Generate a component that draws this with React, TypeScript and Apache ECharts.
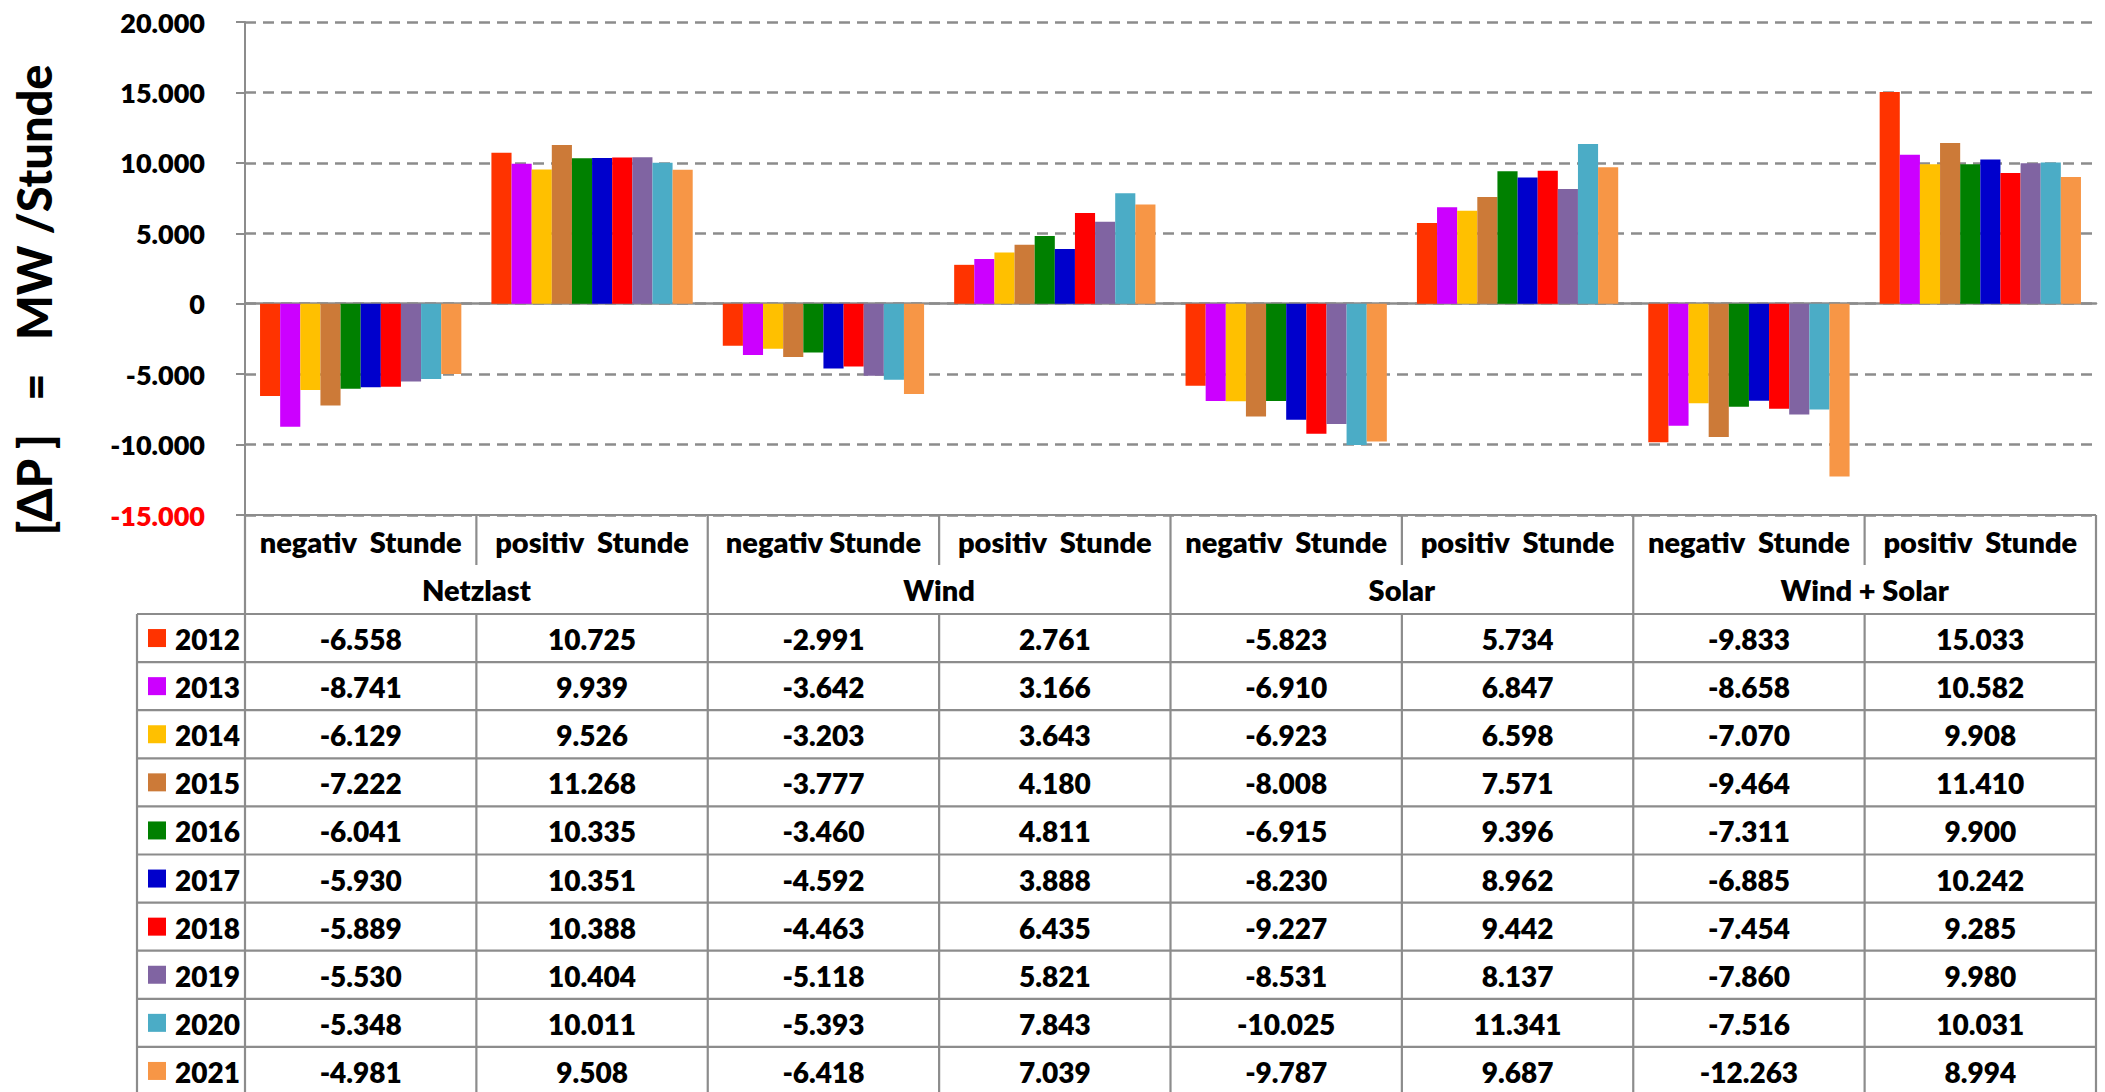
import React, { useEffect, useRef } from "react";
import * as echarts from "echarts";

const years = ["2012", "2013", "2014", "2015", "2016", "2017", "2018", "2019", "2020", "2021"];
const yearColors = ["#FF3300", "#CC00FF", "#FFC000", "#CC7A38", "#008000", "#0000CC", "#FF0000", "#8064A2", "#4BACC6", "#F79646"];

const categories = [
  "negativ  Stunde", "positiv  Stunde",
  "negativ Stunde", "positiv  Stunde",
  "negativ  Stunde", "positiv  Stunde",
  "negativ  Stunde", "positiv  Stunde",
];
const groups = ["Netzlast", "Wind", "Solar", "Wind + Solar"];

const netzlastNeg = [-6558, -8741, -6129, -7222, -6041, -5930, -5889, -5530, -5348, -4981];
const netzlastPos = [10725, 9939, 9526, 11268, 10335, 10351, 10388, 10404, 10011, 9508];
const windNeg = [-2991, -3642, -3203, -3777, -3460, -4592, -4463, -5118, -5393, -6418];
const windPos = [2761, 3166, 3643, 4180, 4811, 3888, 6435, 5821, 7843, 7039];
const solarNeg = [-5823, -6910, -6923, -8008, -6915, -8230, -9227, -8531, -10025, -9787];
const solarPos = [5734, 6847, 6598, 7571, 9396, 8962, 9442, 8137, 11341, 9687];
const windSolarNeg = [-9833, -8658, -7070, -9464, -7311, -6885, -7454, -7860, -7516, -12263];
const windSolarPos = [15033, 10582, 9908, 11410, 9900, 10242, 9285, 9980, 10031, 8994];

const columns = [netzlastNeg, netzlastPos, windNeg, windPos, solarNeg, solarPos, windSolarNeg, windSolarPos];

const yMin = -15000;
const yMax = 20000;
const yInterval = 5000;

const FONT = "Lato, 'Open Sans', sans-serif";
const WEIGHT = 800;
const LINE = "#8c8c8c";

function fmt(v: number): string {
  const s = Math.abs(Math.round(v)).toString().replace(/\B(?=(\d{3})+(?!\d))/g, ".");
  return (v < 0 ? "-" : "") + s;
}

export default function App() {
  const ref = useRef<HTMLDivElement>(null);
  useEffect(() => {
    if (!ref.current) return;
    const chart = echarts.init(ref.current, null, { renderer: "svg" });
    chart.setOption({
      animation: false,
      textStyle: { fontFamily: FONT },
      grid: { left: 245, right: 9, top: 22, bottom: 577, containLabel: false },
      xAxis: {
        type: "category",
        data: categories.map((c, i) => i.toString()),
        axisLabel: { show: false },
        axisTick: { show: false },
        axisLine: { onZero: true, lineStyle: { color: LINE, width: 2.5 } },
        splitLine: { show: false },
      },
      yAxis: {
        type: "value",
        min: yMin,
        max: yMax,
        interval: yInterval,
        axisLine: { show: true, lineStyle: { color: LINE, width: 2 } },
        axisTick: { show: true, length: 9, lineStyle: { color: LINE, width: 2 } },
        axisLabel: {
          margin: 40,
          fontSize: 27,
          fontWeight: WEIGHT,
          fontFamily: FONT,
          formatter: (v: number) => fmt(Number(v)),
          color: (v: any) => (Number(v) === yMin ? "#FF0000" : "#000000"),
        },
        splitLine: { show: true, lineStyle: { color: LINE, width: 2.6, type: [11, 7] } },
      },
      series: years.map((y, i) => ({
        type: "bar",
        name: y,
        data: columns.map((c) => c[i]),
        itemStyle: { color: yearColors[i] },
        barGap: "0%",
        barCategoryGap: "13%",
      })),
    });

    const cx = (i: number) => chart.convertToPixel({ xAxisIndex: 0 }, i) as number;
    const band = cx(1) - cx(0);
    const left = cx(0) - band / 2;
    const right = cx(categories.length - 1) + band / 2;
    const yTop = chart.convertToPixel({ yAxisIndex: 0 }, yMin) as number;
    const head1 = 50;
    const head2 = 49;
    const rowH = 48.1;
    const dataTop = yTop + head1 + head2;
    const tableBottom = dataTop + rowH * years.length;
    const legLeft = 137;

    const els: any[] = [];
    const line = (x1: number, y1: number, x2: number, y2: number) =>
      els.push({ type: "line", shape: { x1, y1, x2, y2 }, style: { stroke: LINE, lineWidth: 2.2 }, z: 10 });
    const text = (t: string, x: number, y: number, align = "center", size = 28) =>
      els.push({
        type: "text",
        x,
        y,
        z: 11,
        style: { text: t, fill: "#000", font: `${WEIGHT} ${size}px ${FONT}`, align, verticalAlign: "middle" },
      });

    // header top line
    line(left - 9, yTop, right, yTop);
    // left axis continuation and right border
    line(left, yTop, left, tableBottom);
    line(right, yTop, right, tableBottom);
    // column separators
    for (let i = 1; i < categories.length; i++) {
      const xb = left + band * i;
      if (i % 2 === 0) line(xb, yTop, xb, tableBottom);
      else {
        line(xb, yTop, xb, yTop + head1);
        line(xb, dataTop, xb, tableBottom);
      }
    }
    // horizontal row lines
    for (let r = 0; r <= years.length; r++) {
      const yy = dataTop + rowH * r;
      line(legLeft, yy, right, yy);
    }
    line(legLeft, dataTop, legLeft, tableBottom);

    // header texts
    categories.forEach((c, i) => text(c, cx(i), yTop + head1 / 2 + 1, "center", 29));
    groups.forEach((g, gi) => text(g, left + band * (gi * 2 + 1), yTop + head1 + head2 / 2, "center", 29));

    // rows
    years.forEach((y, r) => {
      const yc = dataTop + rowH * r + rowH / 2;
      els.push({
        type: "rect",
        shape: { x: 148, y: yc - 9, width: 18, height: 18 },
        style: { fill: yearColors[r] },
        z: 11,
      });
      text(y, 175, yc + 1, "left", 28);
      columns.forEach((col, ci) => text(fmt(col[r]), cx(ci), yc + 1, "center", 28));
    });

    // y axis title
    els.push({
      type: "text",
      x: 34,
      y: 300,
      rotation: Math.PI / 2,
      z: 11,
      style: {
        text: "[ΔP ]   =   MW /Stunde",
        fill: "#000",
        font: `900 47px ${FONT}`,
        align: "center",
        verticalAlign: "middle",
      },
    });

    chart.setOption({ graphic: { elements: els } });
    return () => chart.dispose();
  }, []);
  return <div ref={ref} style={{ position: "fixed", left: 0, top: 0, width: 2105, height: 1092, background: "#fff" }} />;
}
